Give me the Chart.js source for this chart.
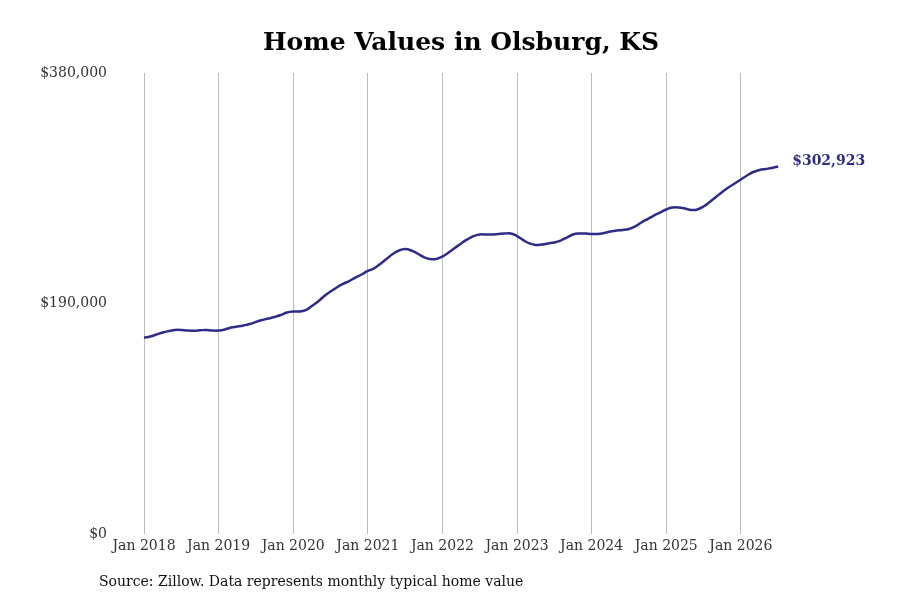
<!DOCTYPE html>
<html>
<head>
<meta charset="utf-8">
<script src="https://cdn.jsdelivr.net/npm/chart.js@4"></script>
<style>
  html, body { margin: 0; padding: 0; background: #fff; }
  #wrap { width: 900px; height: 600px; position: relative; }
</style>
</head>
<body>
<div id="wrap"><canvas id="chart"></canvas></div>
<script>
// Typical home value by month, Jan 2018 .. Jul 2026 (month index 0..102)
const startYear = 2018;
const homeValues = [
  161800, 162800, 164400, 166100, 167300, 168200, 168200, 167700, 167600, 167900, 168200, 167700,
  167700, 168600, 170200, 171000, 171900, 173100, 174800, 176400, 177600, 178900, 180500, 182600,
  183400, 183400, 184600, 187900, 191600, 196200, 199900, 203200, 206100, 208500, 211400, 213900,
  216800, 218900, 222600, 226700, 230800, 233700, 234900, 233700, 231200, 228300, 226700, 226700,
  228700, 232000, 235800, 239500, 242800, 245600, 246900, 246900, 246900, 247300, 247700, 247700,
  245600, 242300, 239500, 238200, 238600, 239500, 240300, 241900, 244400, 246900, 247700, 247700,
  247300, 247300, 248100, 249300, 250200, 250600, 251400, 253500, 256800, 259600, 262500, 265000,
  267500, 269100, 269100, 268300, 267100, 267500, 270000, 273700, 277800, 281900, 285600, 288900,
  292200, 295500, 298400, 300100, 300900, 301700, 302923
];
const yTicks = [0, 190000, 380000];
const xTickMonths = [0, 12, 24, 36, 48, 60, 72, 84, 96];
const xTickLabels = ['Jan 2018', 'Jan 2019', 'Jan 2020', 'Jan 2021', 'Jan 2022', 'Jan 2023', 'Jan 2024', 'Jan 2025', 'Jan 2026'];
const endLabel = '$302,923';
const sourceText = 'Source: Zillow. Data represents monthly typical home value';

const lineColor = '#2e2c86';
const fontFamily = '"DejaVu Serif", serif';

const points = homeValues.map((v, i) => ({ x: i, y: v }));

function money(v){ return '$' + Intl.NumberFormat('en-US').format(v); }

// label at the last point + source line at the bottom
const extras = {
  id: 'extras',
  afterDatasetsDraw(chart){
    const ctx = chart.ctx;
    const meta = chart.getDatasetMeta(0);
    const last = meta.data[meta.data.length - 1];
    ctx.save();
    ctx.font = 'bold 14px ' + fontFamily;
    ctx.fillStyle = lineColor;
    ctx.textAlign = 'left';
    ctx.textBaseline = 'middle';
    ctx.fillText(endLabel, last.x + 14, last.y - 5);
    ctx.font = '14px ' + fontFamily;
    ctx.fillStyle = '#111';
    ctx.fillText(sourceText, 99, 582);
    ctx.restore();
  }
};

new Chart(document.getElementById('chart'), {
  type: 'line',
  data: {
    datasets: [{
      data: points,
      borderColor: lineColor,
      borderWidth: 2.5,
      pointRadius: 0,
      tension: 0.4,
      fill: false
    }]
  },
  options: {
    responsive: true,
    maintainAspectRatio: false,
    animation: false,
    layout: { padding: { left: 22, right: 0, top: 0, bottom: 26 } },
    plugins: {
      legend: { display: false },
      tooltip: { enabled: false },
      title: {
        display: true,
        text: 'Home Values in Olsburg, KS',
        color: '#000',
        font: { family: fontFamily, size: 25, weight: 'bold' },
        padding: { top: 28, bottom: 15 }
      }
    },
    scales: {
      x: {
        type: 'linear',
        min: -5.15,
        max: 121.6,
        afterBuildTicks: function(scale){ scale.ticks = xTickMonths.map(v => ({ value: v })); },
        afterFit: function(scale){ scale.height = 40; },
        ticks: {
          callback: function(v){ const i = xTickMonths.indexOf(v); return i >= 0 ? xTickLabels[i] : ''; },
          color: '#333',
          font: { family: fontFamily, size: 14 },
          padding: 4,
          maxRotation: 0,
          autoSkip: false
        },
        grid: { color: '#bbb', lineWidth: 1, drawTicks: false },
        border: { display: false }
      },
      y: {
        min: 0,
        max: 380000,
        afterBuildTicks: function(scale){ scale.ticks = yTicks.map(v => ({ value: v })); },
        afterFit: function(scale){ scale.width = 90; },
        ticks: {
          callback: v => money(v),
          color: '#333',
          font: { family: fontFamily, size: 14 },
          padding: 5
        },
        grid: { display: false, drawTicks: false },
        border: { display: false }
      }
    }
  },
  plugins: [extras]
});
</script>
</body>
</html>
